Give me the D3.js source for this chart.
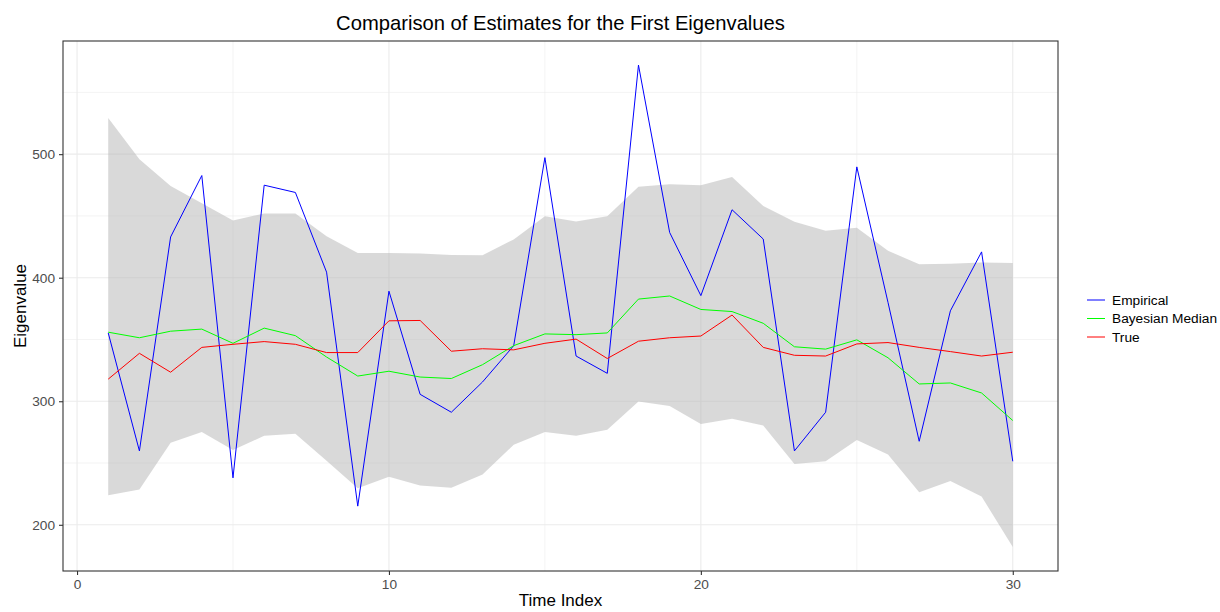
<!DOCTYPE html>
<html>
<head>
<meta charset="utf-8">
<script src="https://cdn.jsdelivr.net/npm/d3@7"></script>
<style>
  html, body { margin: 0; padding: 0; background: #ffffff; }
  svg { display: block; font-family: "Liberation Sans", Arial, Helvetica, sans-serif; }
</style>
</head>
<body>
<svg id="chart" width="1220" height="612"></svg>
<script>
// ---- data ----
const timeIndex = d3.range(1, 31);
const empirical = [355.3, 259.8, 433.0, 482.7, 238.0, 474.9, 469.0, 404.5, 215.1, 389.1,
                   305.6, 291.1, 315.6, 345.0, 497.2, 336.6, 322.6, 572.1, 436.6, 385.5,
                   455.0, 431.3, 259.8, 291.1, 489.7, 380.0, 267.6, 373.2, 420.9, 251.4];
const bayesMedian = [355.9, 351.4, 356.7, 358.4, 346.9, 359.2, 353.1, 335.8, 320.4, 324.3,
                     319.6, 318.4, 329.6, 345.0, 354.5, 353.9, 355.3, 382.7, 385.2, 374.3,
                     372.6, 363.1, 344.1, 342.2, 349.7, 335.2, 314.0, 314.8, 306.7, 284.4];
const trueValues = [317.9, 338.8, 323.5, 343.6, 346.1, 348.3, 346.1, 339.4, 339.4, 365.1,
                    365.4, 340.5, 342.5, 341.6, 346.9, 350.3, 334.6, 348.6, 351.4, 352.8,
                    369.8, 343.6, 337.2, 336.6, 346.4, 347.5, 343.6, 340.2, 336.6, 339.7];
const ribbonUpper = [529.3, 495.8, 474.3, 460.3, 446.4, 452.0, 452.0, 433.5, 420.1, 420.1,
                     419.6, 418.4, 418.2, 431.0, 449.7, 445.5, 449.7, 473.7, 475.7, 474.9,
                     481.6, 458.1, 445.3, 438.0, 440.5, 421.8, 410.9, 411.2, 412.3, 412.0];
const ribbonLower = [224.0, 228.5, 266.5, 275.1, 260.6, 272.0, 273.7, 251.9, 229.6, 238.8,
                     231.8, 229.9, 240.8, 264.8, 275.1, 272.0, 277.0, 299.7, 296.1, 281.6,
                     285.8, 280.4, 249.2, 251.4, 268.7, 257.0, 226.3, 235.5, 222.9, 182.1];
const seriesNames = ["Empirical", "Bayesian Median", "True"];
const seriesColors = ["#0000ff", "#00ff00", "#ff0000"];
const xTicks = [0, 10, 20, 30];
const xMinor = [5, 15, 25];
const yTicks = [200, 300, 400, 500];
const yMinor = [150, 250, 350, 450, 550];
const titleText = "Comparison of Estimates for the First Eigenvalues";
const xTitle = "Time Index";
const yTitle = "Eigenvalue";

// ---- layout ----
const panel = { left: 63, right: 1058, top: 41, bottom: 571 };
const svg = d3.select("#chart");

const xExt = d3.extent(timeIndex);
const xPad = (xExt[1] - xExt[0]) * 0.05;
const x = d3.scaleLinear().domain([xExt[0] - xPad, xExt[1] + xPad]).range([panel.left, panel.right]);

const allY = empirical.concat(bayesMedian, trueValues, ribbonUpper, ribbonLower);
const yExt = d3.extent(allY);
const yPad = (yExt[1] - yExt[0]) * 0.05;
const y = d3.scaleLinear().domain([yExt[0] - yPad, yExt[1] + yPad]).range([panel.bottom, panel.top]);

// panel background
svg.append("rect").attr("x", panel.left).attr("y", panel.top)
  .attr("width", panel.right - panel.left).attr("height", panel.bottom - panel.top)
  .attr("fill", "#ffffff");

const grid = svg.append("g");
// minor grid
grid.selectAll(".ym").data(yMinor.filter(v => v > y.domain()[0] && v < y.domain()[1])).join("line")
  .attr("x1", panel.left).attr("x2", panel.right)
  .attr("y1", d => y(d)).attr("y2", d => y(d))
  .attr("stroke", "#ebebeb").attr("stroke-width", 0.6);
grid.selectAll(".xm").data(xMinor).join("line")
  .attr("class", "xm")
  .attr("y1", panel.top).attr("y2", panel.bottom)
  .attr("x1", d => x(d)).attr("x2", d => x(d))
  .attr("stroke", "#ebebeb").attr("stroke-width", 0.6);
// major grid
grid.selectAll(".yM").data(yTicks).join("line")
  .attr("class", "yM")
  .attr("x1", panel.left).attr("x2", panel.right)
  .attr("y1", d => y(d)).attr("y2", d => y(d))
  .attr("stroke", "#ebebeb").attr("stroke-width", 1.1);
grid.selectAll(".xM").data(xTicks).join("line")
  .attr("class", "xM")
  .attr("y1", panel.top).attr("y2", panel.bottom)
  .attr("x1", d => x(d)).attr("x2", d => x(d))
  .attr("stroke", "#ebebeb").attr("stroke-width", 1.1);

// ribbon
const area = d3.area()
  .x((d, i) => x(timeIndex[i]))
  .y0((d, i) => y(ribbonLower[i]))
  .y1((d, i) => y(ribbonUpper[i]));
svg.append("path").datum(timeIndex).attr("d", area)
  .attr("fill", "#b3b3b3").attr("fill-opacity", 0.5);

// lines
const seriesData = [empirical, bayesMedian, trueValues];
const line = d3.line().x((d, i) => x(timeIndex[i])).y(d => y(d));
seriesData.forEach((s, k) => {
  svg.append("path").datum(s).attr("d", line)
    .attr("fill", "none").attr("stroke", seriesColors[k]).attr("stroke-width", 1)
    .attr("stroke-linejoin", "round");
});

// panel border
svg.append("rect").attr("x", panel.left).attr("y", panel.top)
  .attr("width", panel.right - panel.left).attr("height", panel.bottom - panel.top)
  .attr("fill", "none").attr("stroke", "#333333").attr("stroke-width", 1.1);

// axes
const xAxis = d3.axisBottom(x).tickValues(xTicks).tickSize(4).tickPadding(4).tickFormat(d3.format("d"));
const yAxis = d3.axisLeft(y).tickValues(yTicks).tickSize(4).tickPadding(4).tickFormat(d3.format("d"));
const gx = svg.append("g").attr("transform", `translate(0,${panel.bottom})`).call(xAxis);
const gy = svg.append("g").attr("transform", `translate(${panel.left},0)`).call(yAxis);
[gx, gy].forEach(g => {
  g.select(".domain").remove();
  g.selectAll(".tick line").attr("stroke", "#333333").attr("stroke-width", 1.1);
  g.selectAll(".tick text").attr("fill", "#4d4d4d").style("font-size", "13.7px")
    .style("font-family", "'Liberation Sans', Arial, sans-serif");
});

// titles
svg.append("text").attr("x", (panel.left + panel.right) / 2).attr("y", 30)
  .attr("text-anchor", "middle").style("font-size", "20.2px").attr("fill", "#000")
  .text(titleText);
svg.append("text").attr("x", (panel.left + panel.right) / 2).attr("y", 606)
  .attr("text-anchor", "middle").style("font-size", "17px").attr("fill", "#000")
  .text(xTitle);
svg.append("text")
  .attr("transform", `translate(26,${(panel.top + panel.bottom) / 2}) rotate(-90)`)
  .attr("text-anchor", "middle").style("font-size", "17px").attr("fill", "#000")
  .text(yTitle);

// legend
const legend = svg.append("g").attr("transform", "translate(1087,300)");
seriesNames.forEach((name, i) => {
  const g = legend.append("g").attr("transform", `translate(0,${i * 18.5})`);
  g.append("line").attr("x1", 0).attr("x2", 18).attr("y1", 0).attr("y2", 0)
    .attr("stroke", seriesColors[i]).attr("stroke-width", 1);
  g.append("text").attr("x", 25).attr("y", 0).attr("dy", "0.35em")
    .style("font-size", "13.7px").attr("fill", "#000").text(name);
});
</script>
</body>
</html>
